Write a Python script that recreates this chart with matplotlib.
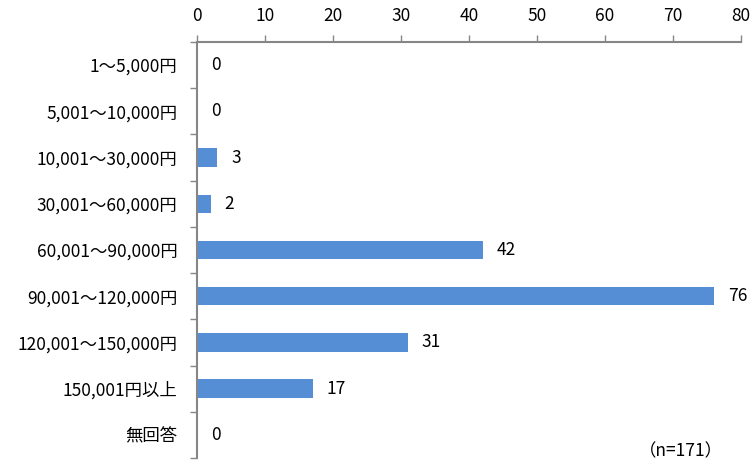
import matplotlib
matplotlib.use("Agg")
import matplotlib.pyplot as plt
import numpy as np

plt.rcParams['font.family'] = ['Noto Sans CJK JP', 'DejaVu Sans']

categories = ["1〜5,000円", "5,001〜10,000円", "10,001〜30,000円", "30,001〜60,000円",
              "60,001〜90,000円", "90,001〜120,000円", "120,001〜150,000円",
              "150,001円以上", "無回答"]
values = [0, 0, 3, 2, 42, 76, 31, 17, 0]
xticks = [0, 10, 20, 30, 40, 50, 60, 70, 80]
note = "（n=171）"

bar_color = "#558ED5"
axis_color = "#868686"
fs = 12.5

fig = plt.figure(figsize=(7.51, 4.61), dpi=100)
ax = fig.add_axes([0.2623, 0.0065, 0.7244, 0.9024])

y = np.arange(len(categories))
ax.barh(y, values, height=0.4, color=bar_color, zorder=2)
ax.set_ylim(len(categories) - 0.5, -0.5)
ax.set_xlim(0, 80)

for yi, v in zip(y, values):
    ax.annotate(str(v), (v, yi), xytext=(10, 0), textcoords="offset points",
                ha="left", va="center", fontsize=fs, color="#000000")

ax.xaxis.tick_top()
ax.set_xticks(xticks)
ax.set_xticklabels([str(t) for t in xticks], fontsize=fs)
ax.tick_params(axis="x", direction="out", length=5, color=axis_color, width=1, pad=7)

ax.set_yticks(y)
ax.set_yticklabels(categories, fontsize=fs)
ax.tick_params(axis="y", which="major", length=0, pad=14)
ax.set_yticks(np.arange(len(categories) + 1) - 0.5, minor=True)
ax.tick_params(axis="y", which="minor", direction="out", length=5, color=axis_color, width=1)

for s in ["right", "bottom"]:
    ax.spines[s].set_visible(False)
for s in ["top", "left"]:
    ax.spines[s].set_color(axis_color)
    ax.spines[s].set_linewidth(1.5)

fig.text(0.962, 0.022, note, ha="right", va="center", fontsize=fs)

fig.savefig("out.png", dpi=100)
